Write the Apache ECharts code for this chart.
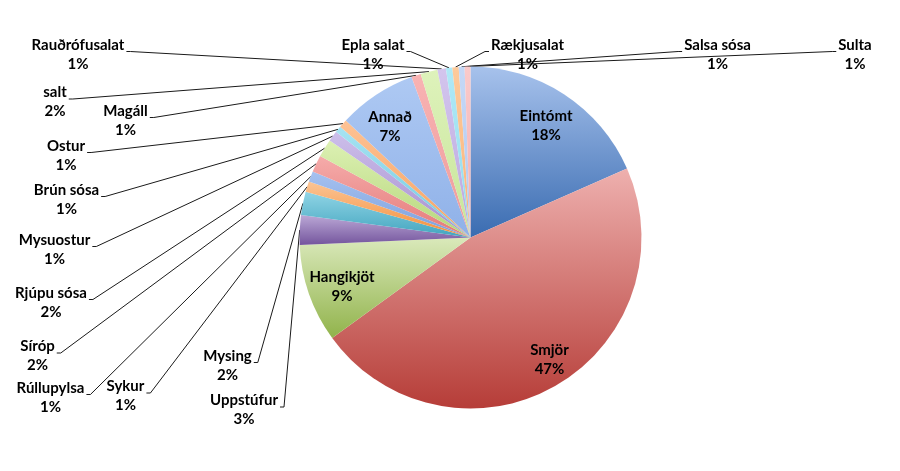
<!DOCTYPE html>
<html><head><meta charset="utf-8">
<script src="https://cdn.jsdelivr.net/npm/echarts@6/dist/echarts.min.js"></script>
<style>html,body{margin:0;padding:0;background:#fff}#c{width:900px;height:471px}</style>
</head><body><div id="c"></div>
<script>
// ---- data ----
const categories = ['Eintómt','Smjör','Hangikjöt','Uppstúfur','Mysing','Sykur','Rúllupylsa','Síróp','Rjúpu sósa','Mysuostur','Brún sósa','Ostur','Annað','Magáll','salt','Rauðrófusalat','Epla salat','Rækjusalat','Salsa sósa','Sulta'];
const values = [18.4, 46.6, 9.3, 2.8, 2.2, 1.0, 1.0, 1.6, 1.7, 1.0, 0.6, 0.8, 7.4, 0.9, 1.6, 0.8, 0.6, 0.6, 0.55, 0.55];
const insideLabels = ['Eintómt','Smjör','Hangikjöt','Annað'];

// ---- styles / layout ----
const colorTop = ['#a7c2ec','#eeb0ae','#dae9bb','#bba8d6','#90d4e5','#fbc494','#a6c1ef','#f5abaa','#dcf0b3','#cdbfea','#a6e3f2','#fdc294','#aec9f3','#f8b3b3','#def2bb','#d3c5ed','#afe9f6','#fdca9b','#c5d8f6','#facaca'];
const colorBot = ['#3a6cb1','#b63d38','#91b34b','#74559d','#42a5bf','#f48e3a','#7ba0dd','#e47a79','#b5d77a','#a58ecf','#72c9e0','#f7a261','#8fb1e8','#ee9b9b','#c7e599','#baa7de','#92daed','#fab379','#b1c9f0','#f3afaf'];
const CX = 470.5, CY = 237.5, R = 171;
const labelPos = {
  'Eintómt':[546,126],'Smjör':[549.5,360],'Hangikjöt':[342,287],'Annað':[390,127],
  'Uppstúfur':[244,410],'Mysing':[227.5,365.5],'Sykur':[125.5,396],'Rúllupylsa':[50.5,397.5],
  'Síróp':[37.5,356],'Rjúpu sósa':[51,302.5],'Mysuostur':[54.5,249.5],'Brún sósa':[66.5,199.5],
  'Ostur':[66,155.5],'Magáll':[125.5,120.5],'salt':[55,102],'Rauðrófusalat':[78,54.5],
  'Epla salat':[373,54.5],'Rækjusalat':[527.5,54.5],'Salsa sósa':[717.5,54.5],'Sulta':[855,54.5]
};

const total = values.reduce((a,b)=>a+b,0);
const midAngles = [];
let acc = 0;
values.forEach(v => { midAngles.push((acc + v/2) / total * 360); acc += v; });

const data = categories.map((name, i) => {
  const inside = insideLabels.includes(name);
  return {
    name, value: values[i],
    itemStyle: { color: new echarts.graphic.LinearGradient(0,0,0,1,[{offset:0,color:colorTop[i]},{offset:1,color:colorBot[i]}]) },
    label: { position: inside ? 'inside' : 'outside' },
    labelLine: { show: !inside }
  };
});

const chart = echarts.init(document.getElementById('c'));
chart.setOption({
  animation: false,
  series: [{
    type: 'pie',
    center: [CX, CY],
    radius: R,
    startAngle: 90,
    clockwise: true,
    avoidLabelOverlap: false,
    itemStyle: { borderWidth: 0 },
    label: {
      show: true,
      color: '#000',
      fontFamily: 'Lato',
      fontWeight: 'bold',
      fontSize: 15,
      lineHeight: 19,
      align: 'center',
      formatter: p => p.name + '\n' + Math.round(p.percent) + '%'
    },
    labelLine: { show: true, length: 5, length2: 5, smooth: false, lineStyle: { color: '#1a1a1a', width: 1 } },
    labelLayout: function (params) {
      const name = categories[params.dataIndex];
      const pos = labelPos[name];
      const res = { x: pos[0], y: pos[1], align: 'center', verticalAlign: 'middle' };
      if (!insideLabels.includes(name)) {
        const a = midAngles[params.dataIndex] * Math.PI / 180;
        const rim = [CX + R * Math.sin(a), CY - R * Math.cos(a)];
        const w = params.labelRect.width;
        const ay = pos[1] - 3;
        let ax, bx;
        if (pos[0] < rim[0]) { ax = pos[0] + w/2 + 2; bx = ax + 4; }
        else { ax = pos[0] - w/2 - 2; bx = ax - 4; }
        res.labelLinePoints = [rim, [bx, ay], [ax, ay]];
      }
      return res;
    },
    data
  }]
});
</script>
</body></html>
